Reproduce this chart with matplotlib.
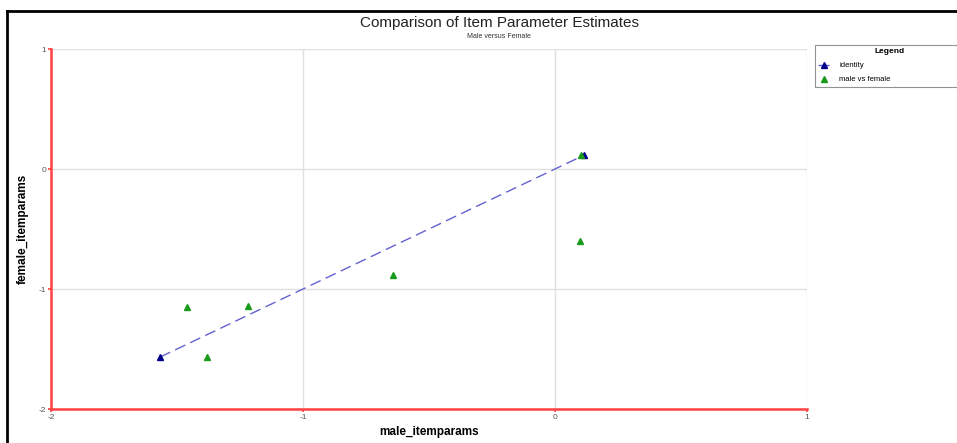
import matplotlib.pyplot as plt
from matplotlib.lines import Line2D

plt.rcParams['font.family'] = ['Liberation Sans', 'DejaVu Sans']
plt.rcParams['axes.unicode_minus'] = False

# data
male_itemparams = [-1.460, -1.218, -1.381, -0.643, 0.099, 0.103]
female_itemparams = [-1.150, -1.140, -1.567, -0.883, -0.600, 0.117]
identity_x = [-1.567, 0.117]
identity_y = [-1.567, 0.117]

x_ticks = [-2, -1, 0, 1]
y_ticks = [-2, -1, 0, 1]

fig = plt.figure(figsize=(9.57, 4.43), dpi=100)
ax = fig.add_axes([51 / 957, 1 - 409 / 443, (807 - 51) / 957, (409 - 49) / 443])

ax.plot(identity_x, identity_y, color='#6262d0', linestyle=(0, (8, 4)), linewidth=1.0,
        marker='^', markersize=4, markerfacecolor='#00008b', markeredgecolor='#00008b',
        label='identity', zorder=3)
ax.plot(male_itemparams, female_itemparams, linestyle='none', marker='^', markersize=4,
        color='#1a9a1a', label='male vs female', zorder=4)

ax.set_xlim(-2, 1)
ax.set_ylim(-2, 1)
ax.set_xticks(x_ticks)
ax.set_yticks(y_ticks)
ax.grid(True, color='#e0e0e0', linewidth=1.0)
ax.set_axisbelow(True)

for s in ['top', 'right']:
    ax.spines[s].set_visible(False)
for s in ['left', 'bottom']:
    ax.spines[s].set_color('#ff4040')
    ax.spines[s].set_linewidth(1.8)
ax.tick_params(axis='both', colors='#ff4040', length=2.5, width=1.2, labelsize=6,
               labelcolor='#555555', pad=1)

ax.set_xlabel('male_itemparams', fontsize=8.5, fontweight='bold', labelpad=4)
ax.set_ylabel('female_itemparams', fontsize=8.5, fontweight='bold', labelpad=7)

fig.text(499 / 957, 1 - 23 / 443, 'Comparison of Item Parameter Estimates', fontsize=11,
         ha='center', va='center', color='#222222')
fig.text(499 / 957, 1 - 37 / 443, 'Male versus Female', fontsize=5, ha='center', va='center',
         color='#333333')

# outer frame
fig.add_artist(Line2D([7 / 957, 1], [1 - 11 / 443, 1 - 11 / 443], color='black', linewidth=2,
                      transform=fig.transFigure))
fig.add_artist(Line2D([7 / 957, 7 / 957], [0, 1 - 11 / 443], color='black', linewidth=2,
                      transform=fig.transFigure))

leg = fig.legend(loc='upper left', bbox_to_anchor=(815 / 957, 1 - 90 / 443, 150 / 957, 45 / 443),
                 mode='expand', fontsize=5.5, title='Legend',
                 title_fontproperties={'weight': 'bold', 'size': 6},
                 frameon=True, fancybox=False, borderaxespad=0, handlelength=1.6,
                 handletextpad=1.2, labelspacing=0.9, alignment='center')
leg.get_frame().set_edgecolor('#777777')
leg.get_frame().set_linewidth(0.8)

fig.savefig('out.png', dpi=100)
